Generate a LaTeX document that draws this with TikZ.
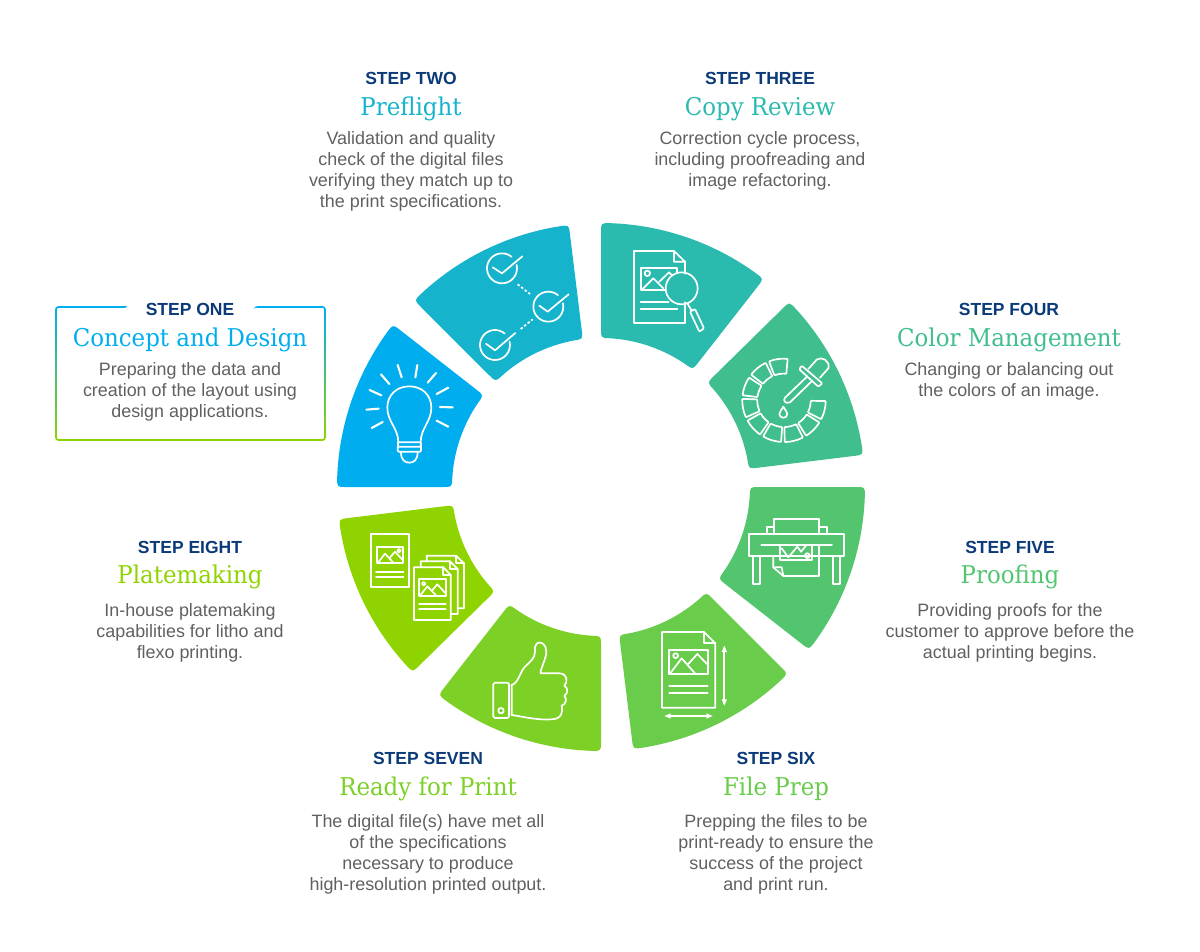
\documentclass[tikz,border=0pt]{standalone}
\usepackage{fontspec}
\setmainfont{Liberation Sans}
\newfontfamily\slab[FakeStretch=0.935]{DejaVu Serif}
\definecolor{navy}{HTML}{0B3A78}
\definecolor{bodyg}{HTML}{606060}
\definecolor{c1}{HTML}{00AEEF}
\definecolor{c2}{HTML}{16B3CD}
\definecolor{c3}{HTML}{2ABAAE}
\definecolor{c4}{HTML}{40BE8D}
\definecolor{c5}{HTML}{53C56F}
\definecolor{c6}{HTML}{69CC4B}
\definecolor{c7}{HTML}{7DD026}
\definecolor{c8}{HTML}{8FD400}
\newcommand\fs{\rule{0pt}{14pt}}
\newcommand\wedgeseg[3]{%
  \fill[#3] (#1:255pt) .. controls (#1:264pt) .. (#1-2:264pt)
    arc[start angle=#1-2,end angle=#2+2,radius=264pt]
    .. controls (#2:264pt) .. (#2:255pt) -- (#2:158pt)
    .. controls (#2:149pt) .. (#2+3.5:149pt)
    arc[start angle=#2+3.5,end angle=#1-3.5,radius=149pt]
    .. controls (#1:149pt) .. (#1:158pt) -- cycle;}
\newcommand\chk[8]{%
  \draw (#1,#2) ++(50:15pt) arc[start angle=50,end angle=373,radius=15pt];
  \draw (#3,#4) -- (#5,#6) -- (#7,#8);}
\tikzset{
  x=1pt,y=-1pt,
  steplabel/.style={font=\bfseries\fontsize{17.5}{20}\selectfont,text=navy,anchor=base,inner sep=0pt},
  steptitle/.style={font=\slab\fontsize{24.5}{28}\selectfont,anchor=base,inner sep=0pt},
  stepdesc/.style={font=\fontsize{17.9}{21}\selectfont,text=bodyg,align=center,anchor=north,inner sep=0pt},
  icon/.style={draw=white,line width=1.7pt,line join=round,line cap=round,x=0.33333pt,y=-0.33333pt},
  ray/.style={line width=2.1pt}
}
\begin{document}
\begin{tikzpicture}
\useasboundingbox (0,0) rectangle (1200,951);
% wedges
\begin{scope}[shift={(601pt,-487pt)}]
\wedgeseg{180}{142}{c1}
\wedgeseg{135}{97}{c2}
\wedgeseg{90}{52}{c3}
\wedgeseg{44.5}{7}{c4}
\wedgeseg{0}{-38}{c5}
\wedgeseg{-45}{-83}{c6}
\wedgeseg{-90}{-128}{c7}
\wedgeseg{-135.5}{-173}{c8}
\end{scope}
% step one frame
\shade[top color=c1,bottom color=c8]
  (127,306.2) [rounded corners=3pt] -- (55.2,306.2) -- (55.2,440.8) -- (325.8,440.8) -- (325.8,306.2) -- (254,306.2) [sharp corners]
  -- (254,307.8) [rounded corners=2pt] -- (324.2,307.8) -- (324.2,439.2) -- (56.8,439.2) -- (56.8,307.8) -- (127,307.8) [sharp corners] -- cycle;
% icon 1: bulb
\begin{scope}[shift={(330pt,-215pt)},icon]
\draw (205,682) .. controls (205,640) and (172,620) .. (172,578) .. controls (172,540) and (200,514) .. (238,514)
  .. controls (276,514) and (304,540) .. (304,578) .. controls (304,620) and (272,640) .. (272,682);
\draw[rounded corners=1pt] (203,682) -- (273,682) -- (273,695) -- (203,695) -- (203,710) -- (273,710) -- (273,695);
\draw (203,682) -- (203,695);
\draw (213,712) .. controls (213,735) and (225,743) .. (238,743) .. controls (251,743) and (263,735) .. (263,712);
\foreach \a/\b/\c/\d in {203/450/215/487,262/450/256/487,153/478/178/507,318/474/293/503,119/525/154/541,355/518/320/537,109/584/146/581,330/576/368/577,125/639/158/621,320/617/355/635}
  \draw[ray] (\a,\b) -- (\c,\d);
% icon 2: checks
\chk{516}{160}{488}{157}{516}{175}{577}{124}
\chk{655}{275}{628}{272}{653}{290}{716}{238}
\chk{495}{390}{468}{386}{495}{406}{556}{354}
\draw[line cap=butt,dash pattern=on 2.5pt off 2pt] (563,208) -- (600,237);
\draw[line cap=butt,dash pattern=on 2.5pt off 2pt] (572,342) -- (608,313);
\end{scope}
% icon 3: copy review
\begin{scope}[shift={(600pt,-215pt)},icon]
\draw (222,108) -- (102,108) -- (102,323) -- (255,323) -- (255,262);
\draw (255,176) -- (255,140) -- (222,108) -- (222,140) -- (255,140);
\draw (197,224) -- (122,224) -- (122,158) -- (232,158) -- (232,172);
\draw (128,222) -- (160,190) -- (190,220);
\draw (178,200) -- (207,172) -- (215,180);
\draw (142,175) circle[radius=2.7pt];
\draw (122,260) -- (206,260);
\draw (122,282) -- (232,282);
\draw (245,220) circle[radius=16pt];
\draw (262,265) -- (275,287);
\draw[rounded corners=1pt] (270,290) -- (285,282) -- (312,340) -- (298,350) -- cycle;
\end{scope}
% icon 4: colour wheel and dropper
\begin{scope}[shift={(600pt,-215pt)},icon]
\foreach \a in {-14,-45,-76,-107,-138,-169,160,129,98}{
  \begin{scope}[shift={(552,556)}]
  \draw[rounded corners=0.7pt] (\a-13:41.7pt) arc[start angle=\a-13,end angle=\a+13,radius=41.7pt]
     -- (\a+13:26.7pt) arc[start angle=\a+13,end angle=\a-13,radius=26.7pt] -- cycle;
  \end{scope}}
\draw (622,484) -- (555,548) .. controls (548,556) and (556,568) .. (570,562) -- (637,497);
\draw[rounded corners=1pt] (605,452) -- (598,463) -- (655,515) -- (667,505) -- cycle;
\draw (625,462) -- (650,434) .. controls (664,422) and (692,438) .. (685,460) -- (660,488);
\draw (550,575) .. controls (545,585) and (538,590) .. (538,597) .. controls (538,612) and (562,612) .. (562,597) .. controls (562,590) and (555,585) .. cycle;
\end{scope}
% icon 5: printer
\begin{scope}[shift={(600pt,-480pt)},icon]
\draw (522,162) -- (522,118) -- (657,118) -- (657,162);
\draw (500,162) -- (500,140) -- (522,140);
\draw (657,140) -- (680,140) -- (680,162);
\draw (446,162) rectangle (733,228);
\draw (484,194) -- (696,194);
\draw (460,228) -- (460,313) -- (481,313) -- (481,228);
\draw (699,228) -- (699,313) -- (720,313) -- (720,228);
\draw (520,228) -- (520,262) -- (550,288) -- (657,288) -- (657,195);
\draw (520,262) -- (545,262) -- (550,288);
\draw (541,196) -- (541,241) -- (636,241) -- (636,196);
\draw (545,205) -- (565,232) -- (592,200) -- (603,215) -- (618,197);
\draw (622,227) circle[radius=2.4pt];
\end{scope}
% icon 6: file prep
\begin{scope}[shift={(600pt,-480pt)},icon]
\draw (186,456) -- (312,456) -- (346,490) -- (346,683) -- (186,683) -- cycle;
\draw (312,456) -- (312,490) -- (346,490);
\draw (208,509) rectangle (323,581);
\draw (212,578) -- (245,535) -- (285,580);
\draw (262,555) -- (292,522) -- (322,553);
\draw (227,527) circle[radius=2.4pt];
\draw (208,617) -- (323,617);
\draw (208,638) -- (323,638);
\fill[white] (373,497) -- (381,516) -- (365,516) -- cycle;
\fill[white] (373,677) -- (381,658) -- (365,658) -- cycle;
\draw (373,505) -- (373,670);
\fill[white] (193,708) -- (212,700) -- (212,716) -- cycle;
\fill[white] (338,708) -- (319,700) -- (319,716) -- cycle;
\draw (200,708) -- (330,708);
\end{scope}
% icon 7: thumb
\begin{scope}[shift={(330pt,-495pt)},icon]
\draw[rounded corners=1.5pt] (490,563) rectangle (537,669);
\draw (513,647) circle[radius=2.7pt];
\draw (545,570) .. controls (565,565) and (570,530) .. (585,515) .. controls (600,500) and (615,490) .. (615,470)
  .. controls (612,445) and (625,438) .. (637,445) .. controls (655,458) and (650,480) .. (640,505)
  .. controls (635,520) and (630,530) .. (632,535) -- (688,535)
  .. controls (712,535) and (715,560) .. (703,572) .. controls (715,580) and (715,595) .. (703,602)
  .. controls (712,612) and (708,628) .. (695,632) .. controls (700,650) and (695,672) .. (665,673)
  .. controls (620,676) and (580,665) .. (545,660) -- cycle;
\end{scope}
% icon 8: platemaking
\begin{scope}[shift={(330pt,-495pt)},icon]
\draw (124,118) rectangle (236,276);
\draw (140,155) rectangle (220,205);
\draw (144,203) -- (165,176) -- (190,203);
\draw (178,190) -- (195,170) -- (218,195);
\draw (207,167) circle[radius=1.8pt];
\draw (138,230) -- (220,230);
\draw (138,245) -- (220,245);
\draw (252,217) -- (340,217) -- (362,240) -- (362,375) -- (252,375) -- cycle;
\draw (340,217) -- (340,240) -- (362,240);
\draw (267,253) rectangle (347,303);
\draw (271,301) -- (292,274) -- (318,301);
\draw (305,288) -- (322,268) -- (345,293);
\draw (281,266) circle[radius=1.8pt];
\draw (267,328) -- (347,328);
\draw (267,342) -- (347,342);
\draw (272,217) -- (272,199) -- (360,199) -- (383,222) -- (383,357) -- (362,357);
\draw (360,199) -- (360,222) -- (383,222);
\draw (290,199) -- (290,182) -- (378,182) -- (402,205) -- (402,340) -- (383,340);
\draw (378,182) -- (378,205) -- (402,205);
\end{scope}
% texts
\node[steplabel] (l1) at (190,315) {STEP ONE};
\node[steptitle,text=c1] (t1) at (190,346) {Concept and Design};
\node[stepdesc] (d1) at (190,361) {\fs Preparing the data and\\creation of the layout using\\design applications.};
\node[steplabel] (l2) at (411,84) {STEP TWO};
\node[steptitle,text=c2] (t2) at (411,115) {Preflight};
\node[stepdesc] (d2) at (411,130) {\fs Validation and quality\\check of the digital files\\verifying they match up to\\the print specifications.};
\node[steplabel] (l3) at (760,84) {STEP THREE};
\node[steptitle,text=c3] (t3) at (760,115) {Copy Review};
\node[stepdesc] (d3) at (760,130) {\fs Correction cycle process,\\including proofreading and\\image refactoring.};
\node[steplabel] (l4) at (1009,315) {STEP FOUR};
\node[steptitle,text=c4] (t4) at (1009,346) {Color Management};
\node[stepdesc] (d4) at (1009,361) {\fs Changing or balancing out\\the colors of an image.};
\node[steplabel] (l5) at (1010,553) {STEP FIVE};
\node[steptitle,text=c5] (t5) at (1010,583) {Proofing};
\node[stepdesc] (d5) at (1010,602) {\fs Providing proofs for the\\customer to approve before the\\actual printing begins.};
\node[steplabel] (l6) at (776,764) {STEP SIX};
\node[steptitle,text=c6] (t6) at (776,795) {File Prep};
\node[stepdesc] (d6) at (776,813.5) {\fs Prepping the files to be\\print-ready to ensure the\\success of the project\\and print run.};
\node[steplabel] (l7) at (428,764) {STEP SEVEN};
\node[steptitle,text=c7] (t7) at (428,795) {Ready for Print};
\node[stepdesc] (d7) at (428,813.5) {\fs The digital file(s) have met all\\of the specifications\\necessary to produce\\high-resolution printed output.};
\node[steplabel] (l8) at (190,553) {STEP EIGHT};
\node[steptitle,text=c8] (t8) at (190,583.5) {Platemaking};
\node[stepdesc] (d8) at (190,602) {\fs In-house platemaking\\capabilities for litho and\\flexo printing.};
\end{tikzpicture}
\end{document}
